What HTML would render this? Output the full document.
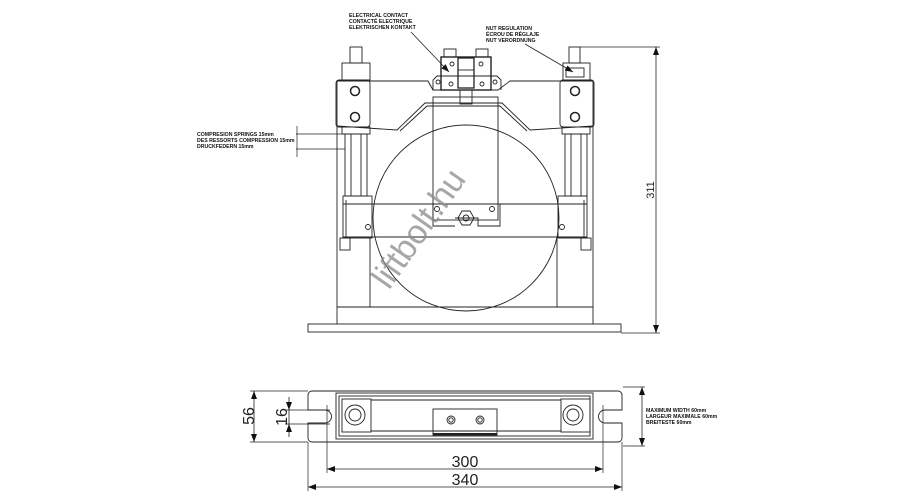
<!DOCTYPE html>
<html><head><meta charset="utf-8"><style>
html,body{margin:0;padding:0;background:#fff;width:900px;height:500px;overflow:hidden}
svg{display:block}
text{font-family:"Liberation Sans",sans-serif}
.s{font-weight:bold;font-size:5.2px;fill:#111}
</style></head><body>
<svg width="900" height="500" viewBox="0 0 900 500" xmlns="http://www.w3.org/2000/svg">
<defs>
<marker id="a" markerWidth="8" markerHeight="6" refX="8" refY="3" orient="auto-start-reverse" markerUnits="userSpaceOnUse"><path d="M0,0 L8,3 L0,6 z" fill="#111"/></marker>
</defs>
<g fill="none" stroke="#222" stroke-width="0.9">
<rect x="308" y="324" width="313" height="8"/>
<line x1="337" y1="81" x2="337" y2="324"/>
<line x1="593" y1="81" x2="593" y2="324"/>
<line x1="337" y1="307" x2="593" y2="307"/>
<line x1="370" y1="237" x2="370" y2="307"/>
<line x1="557" y1="237" x2="557" y2="307"/>
<path d="M337,81 L428,81 L433,90 L498,90 L510,81 L593,81"/>
<path d="M337,126 L397,130 L425,103 L502,103 L530,130 L593,126"/>
<path d="M400,131 L427,106 L500,106 L527,131"/>
<circle cx="466" cy="218" r="93"/>
<rect x="433" y="97" width="65" height="123"/>
<rect x="460" y="90" width="12" height="14"/>
<line x1="343" y1="204" x2="587" y2="204"/>
<line x1="343" y1="237" x2="587" y2="237"/>
<rect x="343" y="196" width="29" height="42"/>
<rect x="558" y="196" width="29" height="42"/>
<line x1="346" y1="200" x2="346" y2="238"/>
<line x1="584" y1="200" x2="584" y2="238"/>
<path d="M455,218 L478,218 L478,226 L500,226 L500,204"/>
<path d="M433,204 L433,226 L455,226"/>
<circle cx="437" cy="209" r="2.5"/><circle cx="492" cy="209" r="2.5"/>
<circle cx="368" cy="227" r="2.5"/><circle cx="562" cy="227" r="2.5"/>
<path d="M458,218 l4,-7 h8 l4,7 l-4,7 h-8 z"/>
<circle cx="466" cy="218" r="3"/>
<rect x="350" y="47" width="12" height="16"/>
<rect x="342" y="63" width="28" height="17"/>
<rect x="336" y="80" width="34" height="47" rx="3"/>
<circle cx="355" cy="91" r="4.5" stroke-width="1.5"/>
<circle cx="355" cy="117" r="4.5" stroke-width="1.5"/>
<rect x="342" y="127" width="28" height="7"/>
<rect x="345" y="134" width="22" height="62"/>
<line x1="351" y1="134" x2="351" y2="196"/>
<line x1="361" y1="134" x2="361" y2="196"/>
<rect x="340" y="238" width="10" height="12"/>
<rect x="569" y="47" width="11" height="16"/>
<rect x="563" y="63" width="27" height="17"/>
<rect x="566" y="68" width="18" height="9"/>
<rect x="560" y="80" width="34" height="47" rx="3"/>
<circle cx="575" cy="91" r="4.5" stroke-width="1.5"/>
<circle cx="575" cy="117" r="4.5" stroke-width="1.5"/>
<rect x="562" y="127" width="28" height="7"/>
<rect x="565" y="134" width="22" height="62"/>
<line x1="571" y1="134" x2="571" y2="196"/>
<line x1="581" y1="134" x2="581" y2="196"/>
<rect x="581" y="238" width="10" height="12"/>
<path d="M433,90 L433,80 L437,76 L497,76 L501,80 L501,90"/>
<rect x="441" y="57" width="50" height="33" stroke-width="1.4"/>
<rect x="444" y="49" width="12" height="8"/><rect x="476" y="49" width="12" height="8"/>
<rect x="458" y="58" width="16" height="30" stroke-width="1.3"/>
<line x1="458" y1="70" x2="474" y2="70"/><line x1="458" y1="76" x2="474" y2="76"/>
<circle cx="452" cy="64" r="2"/><circle cx="481" cy="64" r="2"/>
<circle cx="438" cy="82" r="2"/><circle cx="495" cy="82" r="2"/>
<circle cx="451" cy="84" r="2"/><circle cx="482" cy="84" r="2"/>
<line x1="411" y1="32" x2="449" y2="72" stroke-width="0.8" marker-end="url(#a)"/>
<line x1="525" y1="44" x2="573" y2="72" stroke-width="0.8" marker-end="url(#a)"/>
<line x1="580" y1="47" x2="660" y2="47" stroke-width="0.7"/>
<line x1="621" y1="333" x2="660" y2="333" stroke-width="0.7"/>
<line x1="656" y1="47" x2="656" y2="333" stroke-width="0.8" marker-start="url(#a)" marker-end="url(#a)"/>
<line x1="296" y1="134" x2="345" y2="134" stroke-width="0.7"/>
<line x1="296" y1="149" x2="345" y2="149" stroke-width="0.7"/>
<line x1="297" y1="126" x2="297" y2="157" stroke-width="0.7"/>
</g>
<text class="s" x="349" y="17">ELECTRICAL CONTACT</text>
<text class="s" x="349" y="23">CONTACTÉ ELECTRIQUE</text>
<text class="s" x="349" y="29">ELEKTRISCHEN KONTAKT</text>
<text class="s" x="486" y="30">NUT REGULATION</text>
<text class="s" x="486" y="36">ÉCROU DE RÉGLAJE</text>
<text class="s" x="486" y="42">NUT VERORDNUNG</text>
<text class="s" x="197" y="136">COMPRESION SPRINGS 15mm</text>
<text class="s" x="197" y="142">DES RESSORTS COMPRESSION 15mm</text>
<text class="s" x="197" y="148">DRUCKFEDERN 15mm</text>
<text x="0" y="0" font-size="11" fill="#222" transform="translate(654,190) rotate(-90)" text-anchor="middle">311</text>
<g fill="none" stroke="#222" stroke-width="0.9">
<path d="M312,391 H618 a4,4 0 0 1 4,4 V410 H605 a6.5,6.5 0 0 0 0,13 H622 V438 a4,4 0 0 1 -4,4 H312 a4,4 0 0 1 -4,-4 V423 H325 a6.5,6.5 0 0 0 0,-13 H308 V395 a4,4 0 0 1 4,-4 z"/>
<rect x="336" y="393" width="257" height="46"/>
<rect x="339" y="396" width="251" height="40"/>
<rect x="342" y="399" width="29" height="33"/>
<rect x="561" y="399" width="29" height="33"/>
<circle cx="355" cy="415" r="10"/><circle cx="355" cy="415" r="6"/>
<circle cx="573" cy="415" r="10"/><circle cx="573" cy="415" r="6"/>
<line x1="371" y1="400" x2="561" y2="400"/>
<line x1="371" y1="431" x2="561" y2="431"/>
<rect x="433" y="409" width="64" height="26"/>
<line x1="433" y1="434" x2="497" y2="434" stroke-width="2"/>
<circle cx="451" cy="420" r="4"/><circle cx="451" cy="420" r="2.2"/>
<circle cx="480" cy="420" r="4"/><circle cx="480" cy="420" r="2.2"/>
<line x1="250" y1="391" x2="308" y2="391" stroke-width="0.7"/>
<line x1="250" y1="442" x2="308" y2="442" stroke-width="0.7"/>
<line x1="254" y1="391" x2="254" y2="442" stroke-width="0.8" marker-start="url(#a)" marker-end="url(#a)"/>
<line x1="285" y1="410" x2="330" y2="410" stroke-width="0.7"/>
<line x1="285" y1="424" x2="330" y2="424" stroke-width="0.7"/>
<line x1="289" y1="397" x2="289" y2="410" stroke-width="0.8" marker-end="url(#a)"/>
<line x1="289" y1="437" x2="289" y2="424" stroke-width="0.8" marker-end="url(#a)"/>
<line x1="289" y1="410" x2="289" y2="424" stroke-width="0.8"/>
<line x1="327" y1="405" x2="327" y2="473" stroke-width="0.7"/>
<line x1="603" y1="405" x2="603" y2="473" stroke-width="0.7"/>
<line x1="308" y1="442" x2="308" y2="491" stroke-width="0.7"/>
<line x1="622" y1="442" x2="622" y2="491" stroke-width="0.7"/>
<line x1="327" y1="469" x2="603" y2="469" stroke-width="0.8" marker-start="url(#a)" marker-end="url(#a)"/>
<line x1="308" y1="487" x2="622" y2="487" stroke-width="0.8" marker-start="url(#a)" marker-end="url(#a)"/>
<line x1="623" y1="387" x2="645" y2="387" stroke-width="0.7"/>
<line x1="623" y1="446" x2="645" y2="446" stroke-width="0.7"/>
<line x1="642" y1="387" x2="642" y2="446" stroke-width="0.8" marker-start="url(#a)" marker-end="url(#a)"/>
</g>
<text x="0" y="0" font-size="16" fill="#222" transform="translate(254,416) rotate(-90)" text-anchor="middle">56</text>
<text x="0" y="0" font-size="16" fill="#222" transform="translate(287,417) rotate(-90)" text-anchor="middle">16</text>
<text x="465" y="467" font-size="16" fill="#222" text-anchor="middle">300</text>
<text x="465" y="485" font-size="16" fill="#222" text-anchor="middle">340</text>
<text class="s" x="646" y="412">MAXIMUM WIDTH 60mm</text>
<text class="s" x="646" y="418">LARGEUR MAXIMALE 60mm</text>
<text class="s" x="646" y="424">BREITESTE 60mm</text>
<text x="0" y="0" font-size="34" fill="#8a8a8a" fill-opacity="0.75" transform="translate(428,235) rotate(-55)" text-anchor="middle">liftbolt.hu</text>
</svg>
</body></html>
